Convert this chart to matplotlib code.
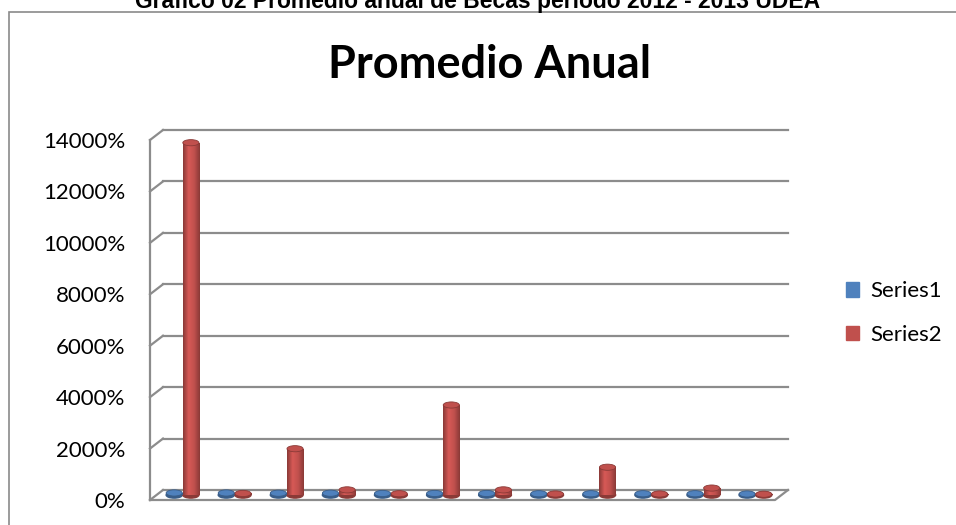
import matplotlib
matplotlib.use("Agg")
import matplotlib.pyplot as plt
import matplotlib.transforms as mtrans
import numpy as np
from matplotlib.patches import Ellipse, Rectangle, Patch

categories = list(range(1, 13))
series1 = [80, 80, 70, 70, 60, 60, 60, 50, 50, 50, 50, 40]
series2 = [13700, 60, 1800, 200, 50, 3500, 200, 40, 1080, 40, 270, 30]
series_names = ["Series1", "Series2"]
yticks = [0, 2000, 4000, 6000, 8000, 10000, 12000, 14000]
ytick_labels = ["%d%%" % v for v in yticks]

BLUE = "#4F81BD"
RED = "#C0504D"
GRID = "#8C8C8C"

W, H = 956, 525
fig = plt.figure(figsize=(W / 100, H / 100), dpi=100)

# outer chart border
fig.patches.append(Rectangle((9 / W, -0.1), 1.1, 1 - 12 / H + 0.1, transform=fig.transFigure,
                             fill=False, edgecolor="#8A8A8A", lw=1.2))

# heading is cut at the top edge, as in the original
fig.text(0.5, 1 - 8 / H, "Grafico 02 Promedio anual de Becas periodo 2012 - 2013 UDEA",
         ha="center", va="baseline", fontsize=16.5, fontweight="bold", family="Liberation Sans")
fig.text(490 / W, 1 - 78 / H, "Promedio Anual", ha="center", va="baseline",
         fontsize=32.5, fontweight="bold", family="Lato")

# back wall of the 3d plot
ax = fig.add_axes([163 / W, 35 / H, 625 / W, 360 / H])
ax.set_xlim(-0.5, 11.5)
ax.set_ylim(0, 14000)
for s in ax.spines.values():
    s.set_visible(False)
ax.set_xticks([])

# depth offsets (front plane is 13px left / 10px down)
fx = -13 / 52.08
fy = -10 / 360 * 14000
for v in yticks:
    ax.plot([-0.5, 11.5], [v, v], color=GRID, lw=1.6, clip_on=False, zorder=1)
    ax.plot([-0.5 + fx, -0.5], [v + fy, v], color=GRID, lw=1.6, clip_on=False, zorder=1)
ax.plot([-0.5 + fx, -0.5 + fx], [fy, 14000 + fy], color=GRID, lw=1.6, clip_on=False, zorder=1)
ax.plot([-0.5 + fx, 11.5 + fx, 11.5], [fy, fy, 0], color=GRID, lw=1.6, clip_on=False, zorder=1)

ax.set_yticks(yticks)
ax.set_yticklabels(ytick_labels, family="Lato", fontsize=16)
ax.tick_params(axis="y", length=0, pad=27)
off = mtrans.ScaledTranslation(0, -10 / 100, fig.dpi_scale_trans)
for lab in ax.get_yticklabels():
    lab.set_transform(lab.get_transform() + off)

# cylinders (mid depth)
mx, my = fx / 2, fy / 2
bw = 0.31
cap = 240
x = np.arange(len(categories))
for vals, dx, col in [(series1, -0.16, BLUE), (series2, 0.16, RED)]:
    base = matplotlib.colors.to_rgb(col)
    dark = tuple(c * 0.72 for c in base)
    light = tuple(min(1, c * 1.12) for c in base)
    cmap = matplotlib.colors.LinearSegmentedColormap.from_list("c", [dark, light, base, dark])
    bars = ax.bar(x + dx + mx, vals, width=bw, bottom=my, color=col, zorder=3, clip_on=False)
    for b, v in zip(bars, vals):
        x0 = b.get_x()
        grad = np.linspace(0, 1, 64).reshape(1, -1)
        im = ax.imshow(grad, extent=[x0, x0 + bw, my, my + v], cmap=cmap, aspect="auto", zorder=3)
        im.set_clip_path(b)
        ax.add_patch(Ellipse((x0 + bw / 2, my), bw, cap, color=dark, zorder=2.9, clip_on=False))
        ax.add_patch(Ellipse((x0 + bw / 2, my + v), bw, cap, facecolor=col,
                             edgecolor=dark, lw=0.6, zorder=4, clip_on=False))
ax.set_xlim(-0.5, 11.5)
ax.set_ylim(0, 14000)

handles = [Patch(color=BLUE), Patch(color=RED)]
fig.legend(handles, series_names, loc="center left", bbox_to_anchor=(826 / W, 1 - 313 / H),
           frameon=False, prop={"family": "Lato", "size": 16}, handlelength=0.6,
           handleheight=0.6, handletextpad=0.5, labelspacing=1.05)

fig.savefig("out.png", dpi=100)
